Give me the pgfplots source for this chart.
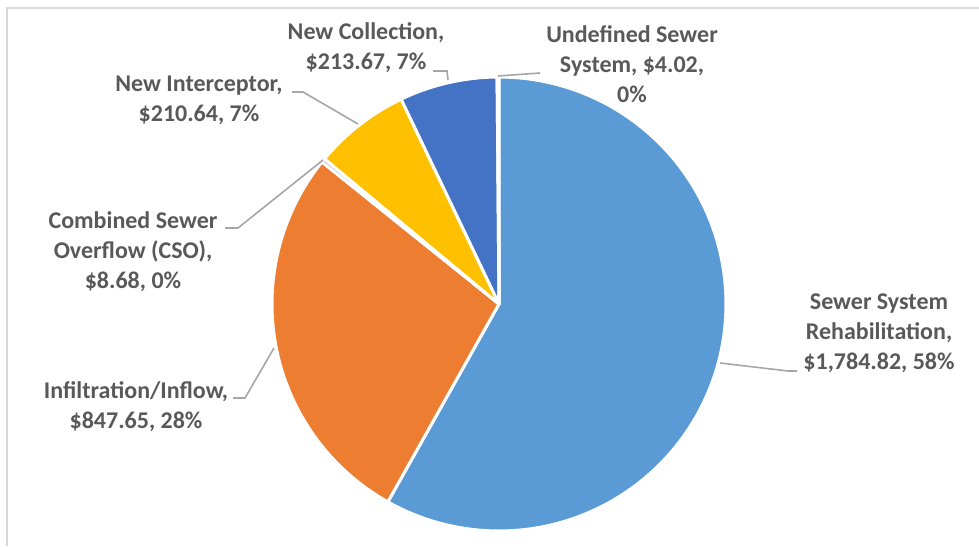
\documentclass[border=0pt]{standalone}
\usepackage{pgfplots}
\pgfplotsset{compat=1.18}
\usepackage{fontspec}
\setmainfont{Carlito}
\definecolor{cA}{HTML}{5B9BD5}
\definecolor{cB}{HTML}{ED7D31}
\definecolor{cC}{HTML}{A5A5A5}
\definecolor{cD}{HTML}{FFC000}
\definecolor{cE}{HTML}{4472C4}
\definecolor{cF}{HTML}{70AD47}
\definecolor{lbl}{HTML}{595959}
\definecolor{lead}{HTML}{A6A6A6}
\definecolor{frame}{HTML}{D9D9D9}
\tikzset{lab/.style={font=\fontsize{12}{15}\selectfont\bfseries, text=lbl, align=center, inner sep=0pt}}
% data values (millions $)
\def\vA{1784.82}% Sewer System Rehabilitation
\def\vB{847.65}% Infiltration/Inflow
\def\vC{8.68}% Combined Sewer Overflow
\def\vD{210.64}% New Interceptor
\def\vE{213.67}% New Collection
\def\vF{4.02}% Undefined Sewer System
\pgfmathsetmacro\tot{\vA+\vB+\vC+\vD+\vE+\vF}
\pgfmathsetmacro\aA{90}
\pgfmathsetmacro\aB{\aA-360*(\vA/\tot)}
\pgfmathsetmacro\aC{\aB-360*(\vB/\tot)}
\pgfmathsetmacro\aD{\aC-360*(\vC/\tot)}
\pgfmathsetmacro\aE{\aD-360*(\vD/\tot)}
\pgfmathsetmacro\aF{\aE-360*(\vE/\tot)}
\pgfmathsetmacro\aG{\aF-360*(\vF/\tot)}
\begin{document}
\begin{tikzpicture}
\begin{axis}[
  width=489.5pt, height=273pt, scale only axis,
  xmin=0, xmax=979, ymin=0, ymax=546,
  hide axis, clip=false,
  slice/.style={draw=white, line width=1.5pt, line join=round},
]
% frame
\addplot[frame, line width=1pt, no marks, line join=miter] coordinates {(6.5,0) (6.5,538) (979,538)};
% slices
\addplot[slice, fill=cA, domain=\aB:\aA, samples=120] ({499+227*cos(x)},{242+227*sin(x)}) -- (axis cs:499,242) -- cycle;
\addplot[slice, fill=cB, domain=\aC:\aB, samples=80] ({499+227*cos(x)},{242+227*sin(x)}) -- (axis cs:499,242) -- cycle;
\addplot[slice, fill=cC, domain=\aD:\aC, samples=5] ({499+227*cos(x)},{242+227*sin(x)}) -- (axis cs:499,242) -- cycle;
\addplot[slice, fill=cD, domain=\aE:\aD, samples=30] ({499+227*cos(x)},{242+227*sin(x)}) -- (axis cs:499,242) -- cycle;
\addplot[slice, fill=cE, domain=\aF:\aE, samples=30] ({499+227*cos(x)},{242+227*sin(x)}) -- (axis cs:499,242) -- cycle;
\addplot[slice, fill=cF, domain=\aG:\aF, samples=5] ({499+227*cos(x)},{242+227*sin(x)}) -- (axis cs:499,242) -- cycle;
% leader lines
\addplot[lead, line width=0.8pt, no marks] coordinates {(720,183) (788,175) (797,175)};
\addplot[lead, line width=0.8pt, no marks] coordinates {(233,148) (245,148) (274,198)};
\addplot[lead, line width=0.8pt, no marks] coordinates {(225,318) (238,318) (323,386)};
\addplot[lead, line width=0.8pt, no marks] coordinates {(292,454) (303,454) (358,422)};
\addplot[lead, line width=0.8pt, no marks] coordinates {(433,475) (447,475) (448,466)};
\addplot[lead, line width=0.8pt, no marks] coordinates {(498,470) (540,473)};
% labels
\node[lab] at (axis cs:879,213) {Sewer System\\Rehabilitation,\\\$1,784.82, 58\%};
\node[lab] at (axis cs:136,139) {Infiltration/Inflow,\\\$847.65, 28\%};
\node[lab] at (axis cs:133,294) {Combined Sewer\\Overflow (CSO),\\\$8.68, 0\%};
\node[lab] at (axis cs:199,446) {New Interceptor,\\\$210.64, 7\%};
\node[lab] at (axis cs:366,498) {New Collection,\\\$213.67, 7\%};
\node[lab] at (axis cs:632,482) {Undefined Sewer\\System, \$4.02,\\0\%};
\end{axis}
\pgfresetboundingbox
\useasboundingbox (current axis.south west) rectangle (current axis.north east);
\end{tikzpicture}
\end{document}
